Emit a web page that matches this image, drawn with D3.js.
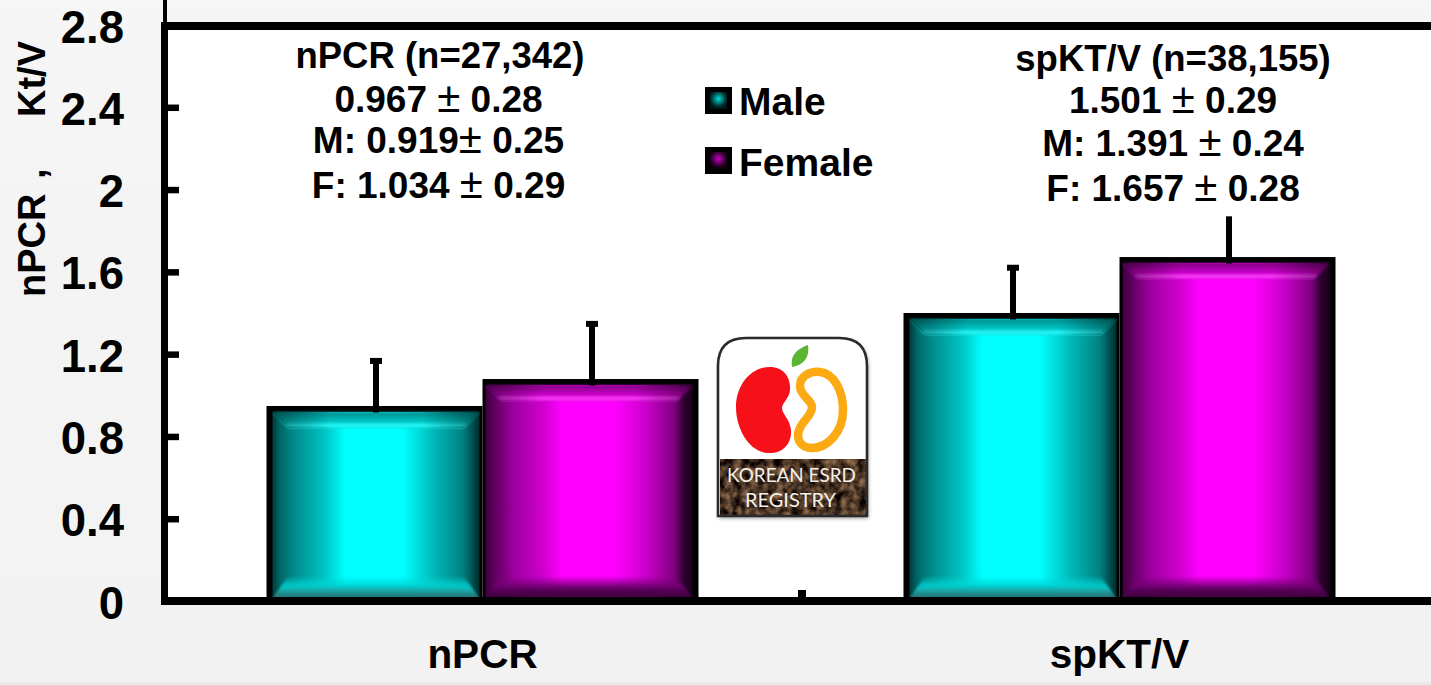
<!DOCTYPE html>
<html><head><meta charset="utf-8">
<script src="https://cdn.jsdelivr.net/npm/d3@7/dist/d3.min.js"></script>
<style>
html,body{margin:0;padding:0;background:#f3f3f3;overflow:hidden}
svg{display:block}
text{font-family:"Liberation Sans",Arial,sans-serif;font-weight:700;fill:#000}
</style></head><body>
<svg id="c" width="1431" height="685"></svg>
<script>
const categories = ["nPCR", "spKT/V"];
const seriesNames = ["Male", "Female"];
const maleValues = [0.948, 1.40];
const femaleValues = [1.079, 1.672];
const maleErrorTops = [1.167, 1.62];
const femaleErrorTops = [1.347, 1.87];
const errorCaps = [[true, true], [true, false]];
const yTicks = [0, 0.4, 0.8, 1.2, 1.6, 2, 2.4, 2.8];
const notes = [
  ["nPCR (n=27,342)", "0.967 ± 0.28", "M: 0.919± 0.25", "F: 1.034 ± 0.29"],
  ["spKT/V (n=38,155)", "1.501 ± 0.29", "M: 1.391 ± 0.24", "F: 1.657 ± 0.28"]
];

const svg = d3.select("#c");
const defs = svg.append("defs");

const y = d3.scaleLinear().domain([0, 2.8]).range([601, 25]);
const x0 = d3.scaleBand().domain(categories).range([164, 1438]);
const x1 = d3.scaleBand().domain(seriesNames).range([0, x0.bandwidth()]).paddingInner(0).paddingOuter(0.4745);

// page background
const bg = defs.append("linearGradient").attr("id","bg").attr("x1",0).attr("x2",0).attr("y1",0).attr("y2",1);
bg.append("stop").attr("offset",0).attr("stop-color","#f6f6f6");
bg.append("stop").attr("offset",.3).attr("stop-color","#f4f4f4");
bg.append("stop").attr("offset",1).attr("stop-color","#f2f2f2");
svg.append("rect").attr("width",1431).attr("height",685).attr("fill","url(#bg)");
svg.append("rect").attr("y",682).attr("width",1431).attr("height",3).attr("fill","#e9e9e7");
svg.append("rect").attr("x",167).attr("y",y(2.8)).attr("width",1264).attr("height",y(0)-y(2.8)).attr("fill","#fff");

// bar gradients
const bodyStops = [
  [[0,"#003c3c"],[.04,"#006a6a"],[.12,"#009090"],[.26,"#00c8c8"],[.35,"#00ffff"],[.63,"#00ffff"],[.78,"#00b8b8"],[.92,"#008080"],[1,"#002c2c"]],
  [[0,"#3a003a"],[.04,"#5c005c"],[.14,"#a000a0"],[.28,"#d000d0"],[.37,"#ff00ff"],[.63,"#ff00ff"],[.78,"#c800c8"],[.91,"#800080"],[.96,"#2c002c"],[1,"#1c001c"]]
];
bodyStops.forEach((st,i)=>{
  const g = defs.append("linearGradient").attr("id","body"+i);
  st.forEach(s=>g.append("stop").attr("offset",s[0]).attr("stop-color",s[1]));
});
const topStops = [
  [[0,"#008c8c"],[.7,"#00d0d0"],[.82,"#30ffff"],[.92,"#20f0f0"],[1,"#00d0d0"]],
  [[0,"#800080"],[.65,"#d000d0"],[.82,"#ff40ff"],[.92,"#f030f0"],[1,"#d000d0"]]
];
topStops.forEach((st,i)=>{
  const g = defs.append("linearGradient").attr("id","top"+i).attr("x1",0).attr("x2",0).attr("y1",0).attr("y2",1);
  st.forEach(s=>g.append("stop").attr("offset",s[0]).attr("stop-color",s[1]));
});
const edge = defs.append("linearGradient").attr("id","edgefade");
[[0,.45],[.28,0],[.72,0],[1,.45]].forEach(s=>edge.append("stop").attr("offset",s[0]).attr("stop-color","#000").attr("stop-opacity",s[1]));
const botStops = [
  [[0,"#00e0e0",0],[.45,"#00d0d0",.9],[.6,"#14b0b0",1],[1,"#2a6a6a",1]],
  [[0,"#800080",0],[.45,"#700070",.9],[.62,"#580058",1],[1,"#3c003c",1]]
];
botStops.forEach((st,i)=>{
  const g = defs.append("linearGradient").attr("id","bot"+i).attr("x1",0).attr("x2",0).attr("y1",0).attr("y2",1);
  st.forEach(s=>g.append("stop").attr("offset",s[0]).attr("stop-color",s[1]).attr("stop-opacity",s[2]));
});
const bf = defs.append("filter").attr("id","soft").attr("x","-5%").attr("y","-30%").attr("width","110%").attr("height","160%");
bf.append("feGaussianBlur").attr("stdDeviation",.8);

// bars
const rows = seriesNames.map((s,si)=>({s,si,vals:si===0?maleValues:femaleValues,errs:si===0?maleErrorTops:femaleErrorTops}));
const border = 6, midBorder = 3;
categories.forEach((c,ci)=>{
  rows.forEach(r=>{
    const left = x0(c)+x1(r.s), w = x1.bandwidth(), top = y(r.vals[ci]), bot = y(0);
    const cx = left+w/2+1.5;
    const g = svg.append("g");
    g.append("rect").attr("x",left).attr("y",top).attr("width",w).attr("height",bot-top).attr("fill","#000");
    const il = left+(r.si===0?border:midBorder), ir = left+w-(r.si===0?midBorder:border), it = top+border, ib = bot-3;
    g.append("rect").attr("x",il).attr("y",it).attr("width",ir-il).attr("height",ib-it).attr("fill",`url(#body${r.si})`);
    const bx=16, bt=16, bb=22;
    const topPts = [[il,it],[ir,it],[ir-bx,it+bt],[il+bx,it+bt]].join(" ");
    const botPts = [[il,ib],[ir,ib],[ir-bx,ib-bb],[il+bx,ib-bb]].join(" ");
    g.append("polygon").attr("points",topPts).attr("fill",`url(#top${r.si})`).attr("filter","url(#soft)");
    g.append("polygon").attr("points",topPts).attr("fill","url(#edgefade)");
    g.append("polygon").attr("points",botPts).attr("fill",`url(#bot${r.si})`).attr("filter","url(#soft)");
    svg.append("line").attr("x1",cx).attr("x2",cx).attr("y1",y(r.errs[ci])).attr("y2",top+6.5).attr("stroke","#000").attr("stroke-width",6);
    if(errorCaps[ci][r.si]) svg.append("rect").attr("x",cx-6).attr("y",y(r.errs[ci])-3).attr("width",12).attr("height",6).attr("fill","#000");
  });
});

// axes
const yAxis = d3.axisLeft(y).tickValues(yTicks).tickSizeInner(-15).tickSizeOuter(0).tickPadding(40).tickFormat(d=>String(d));
const yg = svg.append("g").attr("transform","translate(164,0)").call(yAxis);
yg.select(".domain").attr("stroke","#000").attr("stroke-width",7);
yg.selectAll(".tick line").attr("stroke","#000").attr("stroke-width",6.5);
yg.selectAll(".tick text").attr("font-size",45.5).attr("font-family",null).attr("dy",null).attr("y",17);

svg.append("rect").attr("x",163).attr("y",0).attr("width",4).attr("height",24).attr("fill","#000");
svg.append("line").attr("x1",161).attr("x2",1431).attr("y1",y(2.8)+1).attr("y2",y(2.8)+1).attr("stroke","#000").attr("stroke-width",8);
svg.append("line").attr("x1",161).attr("x2",1431).attr("y1",y(0)).attr("y2",y(0)).attr("stroke","#000").attr("stroke-width",8);
svg.append("rect").attr("x",x0.range()[0]+x0.step()-3).attr("y",590).attr("width",8).attr("height",9).attr("fill","#000");

const xg = svg.append("g").attr("transform","translate(0,668)");
categories.forEach(c=>xg.append("text").attr("x",x0(c)+x0.bandwidth()/2).attr("text-anchor","middle").attr("font-size",40.5).text(c));

// y title
const yt = svg.append("text").attr("transform","translate(45,297) rotate(-90)").attr("font-size",38);
yt.append("tspan").attr("x",0).text("nPCR");
yt.append("tspan").attr("x",118).text(",");
yt.append("tspan").attr("x",180).text("Kt/V");

// notes
const noteLayout = [{cx:440, ys:[68,112,153,198]},{cx:1173, ys:[71,113,156,201]}];
notes.forEach((lines,i)=>{
  lines.forEach((t,j)=>{
    const el = svg.append("text").attr("x",noteLayout[i].cx-(j&&i===0?1.5:0)).attr("y",noteLayout[i].ys[j]).attr("text-anchor","middle").attr("font-size",j===0?36.5:37);
    t.split("±").forEach((part,k)=>{
      if(k>0) el.append("tspan").style("font-weight",400).attr("font-size",42).text("±");
      el.append("tspan").text(part);
    });
  });
});

// legend
const legendGlow = [
  [[0,"#00e0e0"],[.35,"#009090"],[.8,"#003030"],[1,"#001818"]],
  [[0,"#c000c0"],[.35,"#800080"],[.8,"#280028"],[1,"#100010"]]
];
legendGlow.forEach((st,i)=>{
  const g = defs.append("radialGradient").attr("id","leg"+i).attr("cx",.5).attr("cy",.4).attr("r",.55);
  st.forEach(s=>g.append("stop").attr("offset",s[0]).attr("stop-color",s[1]));
});
seriesNames.forEach((s,i)=>{
  const ly = [87,147][i];
  svg.append("rect").attr("x",705).attr("y",ly).attr("width",27).attr("height",27).attr("fill","#000");
  svg.append("rect").attr("x",710).attr("y",ly+5).attr("width",17).attr("height",17).attr("fill",`url(#leg${i})`);
  svg.append("text").attr("x",739).attr("y",[115,176][i]).attr("font-size",39).text(s);
});

// registry logo
const tex = defs.append("filter").attr("id","marble").attr("x",0).attr("y",0).attr("width","100%").attr("height","100%").attr("color-interpolation-filters","sRGB");
tex.append("feTurbulence").attr("type","fractalNoise").attr("baseFrequency",.12).attr("numOctaves",3).attr("seed",4).attr("result","n");
tex.append("feColorMatrix").attr("in","n").attr("type","matrix").attr("values","1.0 0 0 0 -.22  .8 0 0 0 -.2  .6 0 0 0 -.16  0 0 0 0 1").attr("result","o");
tex.append("feComposite").attr("in","o").attr("in2","SourceGraphic").attr("operator","in");
const sh = defs.append("filter").attr("id","logoShadow").attr("x","-10%").attr("y","-10%").attr("width","120%").attr("height","120%");
sh.append("feDropShadow").attr("dx",1).attr("dy",2).attr("stdDeviation",2).attr("flood-color","#000").attr("flood-opacity",.45);
const logo = svg.append("g");
const outline = "M718,516 V366 Q718,338 746,338 H839 Q867,338 867,366 V516 Z";
logo.append("path").attr("d",outline).attr("fill","#fff").attr("filter","url(#logoShadow)");
logo.append("path").attr("d","M720,459 H866 V516 H720 Z").attr("fill","#5a4030").attr("filter","url(#marble)");
logo.append("path").attr("d",outline).attr("fill","none").attr("stroke","#2b2b2b").attr("stroke-width",2.6);
logo.append("path").attr("d","M770,367 C784,367 791,378 790,390 C789,399 782,403 782,408 C782,414 790,419 791,430 C792,445 781,454 768,453 C749,452 736,429 736,407 C736,385 751,367 770,367 Z").attr("fill","#f5101a");
logo.append("path").attr("d","M820,372 C835,374 843,392 843,410 C843,434 826,448 812,448 C800,448 795,438 800,428 C803,420 812,416 812,407 C812,400 800,396 800,386 C800,376 810,371 820,372 Z").attr("fill","none").attr("stroke","#fbaa13").attr("stroke-width",8.5);
logo.append("path").attr("d","M792,367 C790,355 797,349 808,345 C810,357 804,365 792,367 Z").attr("fill","#5cb531");
logo.append("text").attr("x",791.5).attr("y",482).attr("text-anchor","middle").attr("font-size",20).attr("textLength",129).attr("lengthAdjust","spacingAndGlyphs").style("font-family","Lato,sans-serif").style("font-weight",400).style("fill","#f5f1e8").text("KOREAN ESRD");
logo.append("text").attr("x",790.5).attr("y",507).attr("text-anchor","middle").attr("font-size",20).attr("textLength",91).attr("lengthAdjust","spacingAndGlyphs").style("font-family","Lato,sans-serif").style("font-weight",400).style("fill","#f5f1e8").text("REGISTRY");
</script>
</body></html>
